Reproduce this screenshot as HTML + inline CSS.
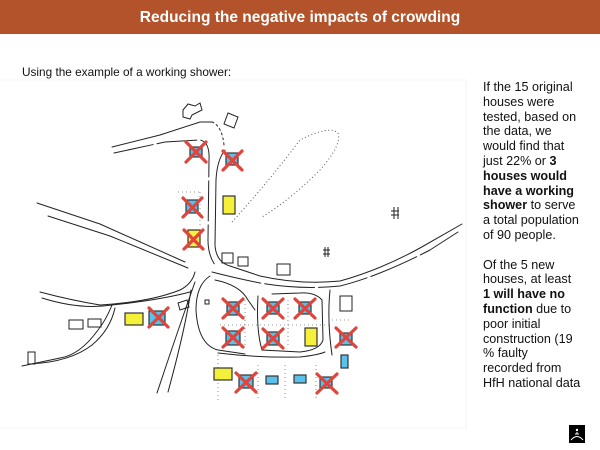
<!DOCTYPE html>
<html><head><meta charset="utf-8"><style>
html,body{margin:0;padding:0;background:#fff;}
body{width:600px;height:450px;position:relative;overflow:hidden;font-family:"Liberation Sans",sans-serif;}
.hdr{position:absolute;left:0;top:0;width:600px;height:34px;background:#b3532b;color:#fff;font-weight:bold;font-size:15.5px;text-align:center;line-height:36px;}
.sub{position:absolute;left:22px;top:65px;font-size:11.8px;color:#111;}
.rt{position:absolute;left:483px;top:80px;width:117px;font-size:12.6px;line-height:14.8px;color:#111;white-space:nowrap;}
.rt p{margin:0 0 14.8px 0;}
.logo{position:absolute;left:569px;top:425px;width:16px;height:18px;background:#000;}
</style></head><body>
<div class="hdr">Reducing the negative impacts of crowding</div>
<div class="sub">Using the example of a working shower:</div>
<div class="rt"><p>If the 15 original<br>houses were<br>tested, based on<br>the data, we<br>would find that<br>just 22% or <b>3</b><br><b>houses would</b><br><b>have a working</b><br><b>shower</b> to serve<br>a total population<br>of 90 people.</p><p>Of the 5 new<br>houses, at least<br><b>1 will have no</b><br><b>function</b> due to<br>poor initial<br>construction (19<br>% faulty<br>recorded from<br>HfH national data</p></div>
<div class="logo"><svg width="16" height="18"><circle cx="8" cy="5" r="1.2" fill="#fff"/><path d="M8 7 L8 9 M6 9 L10 9 M2 15 Q8 8 14 15" stroke="#fff" stroke-width="1" fill="none"/></svg></div>
<svg style="position:absolute;left:0;top:0" width="600" height="450">
<path d="M0 80 H466 V428 H0" stroke="#f3f3f3" stroke-width="1" fill="none"/>
<g stroke="#222" stroke-width="1" fill="none" stroke-linecap="round">
<path d="M112 147 L160 135 L200 122 L212 122"/>
<path d="M114 153 L165 142 L200 140 Q210 142 209 160 L208 240 Q208 255 215 265" stroke-dasharray="40 4"/>
<path d="M212 122 Q222 126 224 145" stroke-dasharray="2 3"/>
<path d="M225 150 Q217 160 216 180 L215 245 Q216 262 230 266 L260 276 Q300 285 340 281 Q380 270 420 248 L462 224"/>
<path d="M212 272 Q235 278 260 283 Q300 290 340 286 Q380 276 430 250 L458 232" stroke-dasharray="50 4"/>
<path d="M37 203 L100 224 L185 262"/>
<path d="M48 216 L110 236 L188 268"/>
<path d="M40 292 Q70 300 100 305 Q150 302 180 290 Q192 284 195 272"/>
<path d="M42 298 Q80 310 112 305 Q160 300 190 292"/>
<path d="M112 305 Q106 320 98 330 Q80 355 60 358 L22 366"/>
<path d="M115 308 Q110 330 92 345 Q70 362 30 364"/>
<path d="M195 282 Q178 330 157 393"/>
<path d="M191 290 Q185 330 168 392"/>
<path d="M210 276 Q196 285 196 310 Q198 345 218 350 L245 354"/>
<path d="M215 280 Q240 285 248 300 L255 310"/>
<path d="M258 296 Q256 330 262 350 L300 352 Q320 350 323 340 L322 300 Q315 292 300 293 L272 294"/>
<path d="M218 353 Q260 358 300 357 Q318 355 325 352"/>
<path d="M330 290 Q327 320 332 355"/>
</g>
<path d="M232 222 Q270 180 300 140 Q330 125 338 133 Q342 145 320 170 Q290 200 262 217" stroke="#555" stroke-width="1" stroke-dasharray="1 2.5" fill="none"/>
<g stroke="#777" stroke-width="0.8" stroke-dasharray="1 3" fill="none">
<path d="M178 192 H200 M200 192 V228 M218 355 V400 M258 365 V400 M285 365 V400 M316 365 V400 M245 300 V345 M288 300 V345 M220 325 H330 M332 320 H352"/>
</g>
<g stroke="#222" stroke-width="1" fill="none">
<path d="M183 110 L188 104 L195 106 L200 103 L202 110 L192 115 L190 119 L183 117Z"/>
<path d="M228 113 L238 117 L234 128 L224 124Z"/>
<path d="M222 253 H233 V263 H222Z M238 257 H248 V266 H238Z M277 264 H290 V275 H277Z"/>
<path d="M340 296 H352 V311 H340Z M178 303 L187 300 L189 307 L180 310Z"/>
<path d="M69 320 H83 V329 H69Z M88 319 H101 V327 H88Z M28 352 H35 V364 H28Z M205 300 h4 v4 h-4Z"/>
<path d="M391 211 h8 M391 215 h8 M394 207 v12 M398 207 v12 M323 250 h7 M323 254 h7 M325 247 v10 M328 247 v10"/>
</g>
<g stroke="#333" stroke-width="1.2">
<rect x="190" y="147" width="12" height="10" fill="#5bc0eb"/>
<rect x="226" y="153" width="12" height="12" fill="#5bc0eb"/>
<rect x="186" y="200" width="12" height="13" fill="#5bc0eb"/>
<rect x="188" y="230" width="12" height="17" fill="#f5f03a"/>
<rect x="223" y="196" width="12" height="18" fill="#f5f03a"/>
<rect x="125" y="313" width="18" height="12" fill="#f5f03a"/>
<rect x="149" y="311" width="16" height="14" fill="#5bc0eb"/>
<rect x="227" y="302" width="12" height="13" fill="#5bc0eb"/>
<rect x="267" y="302" width="12" height="12" fill="#5bc0eb"/>
<rect x="299" y="302" width="12" height="12" fill="#5bc0eb"/>
<rect x="226" y="331" width="14" height="14" fill="#5bc0eb"/>
<rect x="267" y="332" width="12" height="13" fill="#5bc0eb"/>
<rect x="305" y="328" width="12" height="18" fill="#f5f03a"/>
<rect x="340" y="333" width="12" height="12" fill="#5bc0eb"/>
<rect x="341" y="355" width="7" height="13" fill="#5bc0eb"/>
<rect x="214" y="368" width="18" height="12" fill="#f5f03a"/>
<rect x="239" y="375" width="14" height="13" fill="#5bc0eb"/>
<rect x="266" y="376" width="12" height="8" fill="#5bc0eb"/>
<rect x="294" y="375" width="12" height="8" fill="#5bc0eb"/>
<rect x="320" y="377" width="12" height="11" fill="#5bc0eb"/>
</g>
<g stroke="#e0443a" stroke-width="3.2" stroke-linecap="round">
<path d="M186 142 L206 162 M206 142 L186 162"/>
<path d="M223 151 L242 170 M242 151 L223 170"/>
<path d="M183 198 L202 217 M202 198 L183 217"/>
<path d="M184 230 L203 249 M203 230 L184 249"/>
<path d="M149 308 L168 327 M168 308 L149 327"/>
<path d="M223 299 L243 318 M243 299 L223 318"/>
<path d="M263 299 L283 318 M283 299 L263 318"/>
<path d="M295 299 L315 318 M315 299 L295 318"/>
<path d="M223 328 L243 347 M243 328 L223 347"/>
<path d="M263 329 L283 348 M283 329 L263 348"/>
<path d="M336 328 L356 347 M356 328 L336 347"/>
<path d="M236 373 L256 392 M256 373 L236 392"/>
<path d="M317 374 L337 393 M337 374 L317 393"/>
</g>
</svg>
</body></html>
